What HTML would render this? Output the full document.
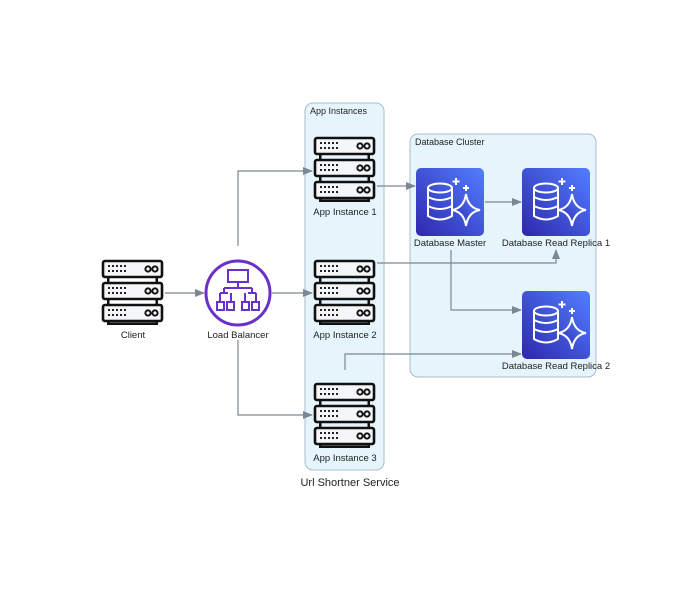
<!DOCTYPE html>
<html><head><meta charset="utf-8"><style>
body{margin:0;background:#fff;}
svg text{font-family:"Liberation Sans",sans-serif;fill:#222;}
</style></head><body>
<svg width="700" height="590" viewBox="0 0 700 590" xmlns="http://www.w3.org/2000/svg">
<defs>
<g id="srv">
  <g fill="#111">
    <rect x="6" y="18" width="2.5" height="6"/><rect x="54.5" y="18" width="2.5" height="6"/>
    <rect x="6" y="40" width="2.5" height="6"/><rect x="54.5" y="40" width="2.5" height="6"/>
    <rect x="6" y="62" width="2.5" height="4"/><rect x="54.5" y="62" width="2.5" height="4"/>
    <rect x="8" y="63.5" width="47" height="2.5"/>
  </g>
  <g fill="#f4f6f8" stroke="#111" stroke-width="2.6">
    <rect x="2" y="2" width="59" height="16" rx="2"/>
    <rect x="2" y="24" width="59" height="16" rx="2"/>
    <rect x="2" y="46" width="59" height="16" rx="2"/>
  </g>
  <g id="row" fill="#222">
    <rect x="7" y="6" width="2" height="2"/><rect x="11" y="6" width="2" height="2"/><rect x="15" y="6" width="2" height="2"/><rect x="19" y="6" width="2" height="2"/><rect x="23" y="6" width="2" height="2"/>
    <rect x="7" y="11" width="2" height="2"/><rect x="11" y="11" width="2" height="2"/><rect x="15" y="11" width="2" height="2"/><rect x="19" y="11" width="2" height="2"/><rect x="23" y="11" width="2" height="2"/>
    <circle cx="47" cy="10" r="2.6" fill="none" stroke="#111" stroke-width="2"/><circle cx="54" cy="10" r="2.6" fill="none" stroke="#111" stroke-width="2"/>
  </g>
  <use href="#row" y="22"/><use href="#row" y="44"/>
</g>
<linearGradient id="dbg" x1="0" y1="1" x2="1" y2="0"><stop offset="0" stop-color="#2e27ad"/><stop offset="1" stop-color="#527fff"/></linearGradient>
<g id="db">
  <rect width="68" height="68" rx="5" fill="url(#dbg)"/>
  <g fill="none" stroke="#fff" stroke-width="2">
    <ellipse cx="24" cy="20" rx="12" ry="4.5"/>
    <path d="M12 20 V48 Q24 55 36 48 V20 M12 29 Q24 35 36 29 M12 38 Q24 44 36 38"/>
    <path d="M50 26 Q52 40 64 42 Q52 44 50 58 Q48 44 36 42 Q48 40 50 26 Z" fill="url(#dbg)"/>
    <path d="M40 10 v7 M36.5 13.5 h7 M50 17 v6 M47 20 h6"/>
  </g>
</g>
<marker id="ar" markerWidth="10" markerHeight="8" refX="9" refY="4" orient="auto" markerUnits="userSpaceOnUse"><path d="M0 0 L10 4 L0 8 Z" fill="#7b8794"/></marker>
</defs>
<rect x="305" y="103" width="79" height="367" rx="8" fill="#e6f4fc" stroke="#a9bccb"/>
<rect x="410" y="134" width="186" height="243" rx="8" fill="#e6f4fc" stroke="#a9bccb"/>
<text x="310" y="114" font-size="9">App Instances</text>
<text x="415" y="145" font-size="9">Database Cluster</text>
<g fill="none" stroke="#7b8794" stroke-width="1.2" marker-end="url(#ar)">
  <path d="M165 293 H204"/>
  <path d="M238 246 V171 H312"/>
  <path d="M272 293 H312"/>
  <path d="M238 340 V415 H312"/>
  <path d="M377 186 H415"/>
  <path d="M485 202 H521"/>
  <path d="M377 263 H556 V250"/>
  <path d="M451 250 V310 H521"/>
  <path d="M345 370 V354 H521"/>
</g>
<use href="#srv" x="101" y="259"/>
<use href="#srv" x="313" y="136"/>
<use href="#srv" x="313" y="259"/>
<use href="#srv" x="313" y="382"/>
<circle cx="238" cy="293" r="32" fill="#fff" stroke="#6a30c8" stroke-width="3"/>
<g fill="none" stroke="#6a30c8" stroke-width="2">
  <rect x="228" y="270" width="20" height="12"/>
  <path d="M238 282 v6 M224 288 h28 M224 288 v5 M252 288 v5 M220 293 h8 M248 293 h8 M231 297 v-4 M245 297 v-4"/>
  <rect x="217" y="302" width="7" height="8"/><rect x="227" y="302" width="7" height="8"/>
  <rect x="242" y="302" width="7" height="8"/><rect x="252" y="302" width="7" height="8"/>
  <path d="M220 293 v9 M231 297 v5 M245 297 v5 M256 293 v9"/>
</g>
<use href="#db" x="416" y="168"/>
<use href="#db" x="522" y="168"/>
<use href="#db" x="522" y="291"/>
<g font-size="9.5" text-anchor="middle">
<text x="133" y="338">Client</text>
<text x="238" y="338">Load Balancer</text>
<text x="345" y="215">App Instance 1</text>
<text x="345" y="338">App Instance 2</text>
<text x="345" y="461">App Instance 3</text>
<text x="450" y="246">Database Master</text>
<text x="556" y="246">Database Read Replica 1</text>
<text x="556" y="369">Database Read Replica 2</text>
</g>
<text x="350" y="486" font-size="11" text-anchor="middle">Url Shortner Service</text>
</svg>
</body></html>
